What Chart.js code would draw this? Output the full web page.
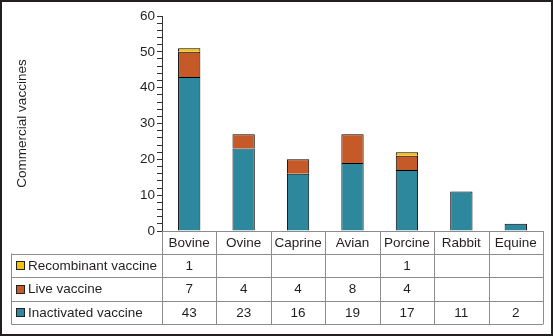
<!DOCTYPE html>
<html>
<head>
<meta charset="utf-8">
<script src="https://cdn.jsdelivr.net/npm/chart.js@4.4.1/dist/chart.umd.min.js"></script>
<style>
  html, body { margin: 0; padding: 0; background: #fff; }
  #wrap { width: 553px; height: 336px; position: relative; }
</style>
</head>
<body>
<div id="wrap"><canvas id="chart" width="553" height="336"></canvas></div>
<script>
const categories = ['Bovine', 'Ovine', 'Caprine', 'Avian', 'Porcine', 'Rabbit', 'Equine'];
const inactivated = [43, 23, 16, 19, 17, 11, 2];
const live = [7, 4, 4, 8, 4, null, null];
const recombinant = [1, null, null, null, 1, null, null];
const yTicks = [0, 10, 20, 30, 40, 50, 60];

const FONT = '"Liberation Sans", Arial, sans-serif';
const TEXT = '#231f20';
const GRID = '#8c8c8c';

// rows of the data table, top to bottom (same order as the picture)
const tableRows = [
    { label: 'Recombinant vaccine', values: recombinant, color: '#f6c100' },
    { label: 'Live vaccine', values: live, color: '#c55a28' },
    { label: 'Inactivated vaccine', values: inactivated, color: '#2e889d' }
];

const dataTable = {
    id: 'dataTable',
    afterDraw(chart) {
        const ctx = chart.ctx;
        const x = chart.scales.x;
        const area = chart.chartArea;
        const n = categories.length;
        const colW = (area.right - area.left) / n;
        const headTop = area.bottom;
        const headBottom = 253.5;
        const rowH = 23.5;
        const tableLeft = 11.5;
        const tableBottom = headBottom + rowH * tableRows.length;

        ctx.save();
        ctx.strokeStyle = GRID;
        ctx.lineWidth = 1;
        ctx.beginPath();
        // header top line
        ctx.moveTo(area.left, headTop + 0.5);
        ctx.lineTo(area.right, headTop + 0.5);
        // horizontal row lines
        for (let r = 0; r <= tableRows.length; r++) {
            const y = Math.round(headBottom + r * rowH) + 0.5;
            ctx.moveTo(tableLeft, y);
            ctx.lineTo(area.right, y);
        }
        // left border of labels
        ctx.moveTo(tableLeft, headBottom);
        ctx.lineTo(tableLeft, tableBottom + 0.5);
        // column lines
        for (let i = 0; i <= n; i++) {
            const cx = Math.round(area.left + i * colW) + 0.5;
            ctx.moveTo(cx, headTop);
            ctx.lineTo(cx, tableBottom + 0.5);
        }
        ctx.stroke();

        ctx.fillStyle = TEXT;
        ctx.font = '13.5px ' + FONT;
        ctx.textBaseline = 'middle';
        ctx.textAlign = 'center';
        categories.forEach((c, i) => {
            ctx.fillText(c, x.getPixelForValue(i), (headTop + headBottom) / 2 + 1);
        });

        tableRows.forEach((row, r) => {
            const cy = headBottom + r * rowH + rowH / 2 + 1;
            ctx.fillStyle = row.color;
            ctx.fillRect(16, Math.round(cy - 5), 9, 9);
            ctx.strokeStyle = '#222';
            ctx.strokeRect(16.5, Math.round(cy - 5) + 0.5, 8, 8);
            ctx.fillStyle = TEXT;
            ctx.textAlign = 'left';
            ctx.fillText(row.label, 28, cy);
            ctx.textAlign = 'center';
            row.values.forEach((v, i) => {
                if (v !== null) ctx.fillText(String(v), x.getPixelForValue(i), cy);
            });
        });

        // outer frame
        ctx.strokeStyle = '#231f20';
        ctx.lineWidth = 2;
        ctx.strokeRect(1, 1, chart.width - 2, chart.height - 2);
        ctx.restore();
    }
};

new Chart(document.getElementById('chart'), {
    type: 'bar',
    data: {
        labels: categories,
        datasets: [
            { label: 'Inactivated vaccine', data: inactivated, backgroundColor: '#2e889d' },
            { label: 'Live vaccine', data: live, backgroundColor: '#c55a28' },
            { label: 'Recombinant vaccine', data: recombinant, backgroundColor: '#f6c100' }
        ]
    },
    options: {
        responsive: false,
        animation: false,
        layout: { padding: { top: 16, right: 10, left: 0, bottom: 0 } },
        datasets: {
            bar: {
                borderColor: '#000',
                borderWidth: 1,
                borderSkipped: 'start',
                categoryPercentage: 1,
                barPercentage: 0.41
            }
        },
        plugins: {
            legend: { display: false },
            tooltip: { enabled: false }
        },
        scales: {
            x: {
                stacked: true,
                grid: { display: false },
                border: { display: false },
                ticks: { display: false },
                afterFit(scale) { scale.height = 105; }
            },
            y: {
                stacked: true,
                min: 0,
                max: 60,
                afterFit(scale) { scale.width = 162; },
                border: { display: true, color: '#333', width: 1 },
                grid: {
                    drawOnChartArea: false,
                    color: '#333',
                    tickLength: 5
                },
                ticks: {
                    stepSize: 2,
                    autoSkip: false,
                    padding: 2,
                    color: TEXT,
                    font: { family: FONT, size: 13.5 },
                    callback: v => (yTicks.includes(v) ? String(v) : '')
                },
                title: {
                    display: true,
                    text: 'Commercial vaccines',
                    color: TEXT,
                    font: { family: FONT, size: 13.5 },
                    padding: { top: 14 }
                }
            }
        }
    },
    plugins: [dataTable]
});
</script>
</body>
</html>
